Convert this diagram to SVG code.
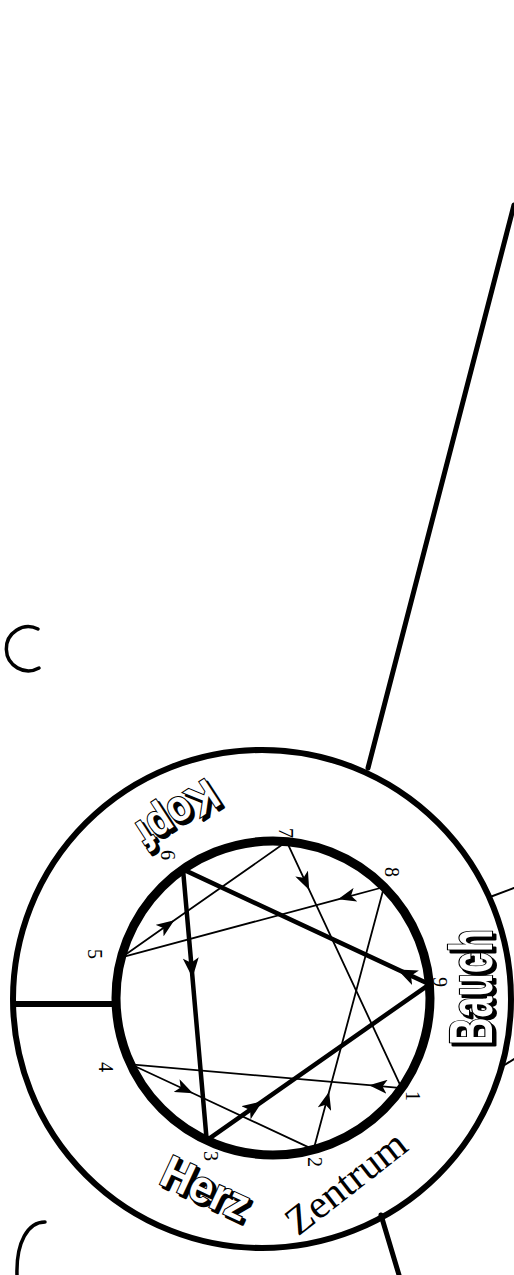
<svg xmlns="http://www.w3.org/2000/svg" width="514" height="1275" viewBox="0 0 514 1275">
<style>
.bg{fill:#fff}
.ring{fill:none;stroke:#000;stroke-width:6}
.inner{fill:none;stroke:#000;stroke-width:9}
.thick{fill:none;stroke:#000;stroke-width:5;stroke-linecap:round}
.thin{fill:none;stroke:#000;stroke-width:2;stroke-linecap:round}
.tri{fill:none;stroke:#000;stroke-width:4.5;stroke-linecap:round;marker-mid:url(#ah-thick)}
.hex{fill:none;stroke:#000;stroke-width:1.8;stroke-linecap:round;marker-mid:url(#ah-thin)}
.arc{fill:none;stroke:#000;stroke-width:3.5;stroke-linecap:round}
.num{font-family:"Liberation Serif",serif;font-size:20px;text-anchor:middle;fill:#000}
.serif{font-family:"Liberation Serif",serif;font-size:40px;text-anchor:middle;fill:#000}
.big{font-family:"Liberation Sans",Arial,sans-serif;font-weight:bold;text-anchor:middle}
.shadow{fill:#000;stroke:#000;stroke-width:3;stroke-linejoin:round}
.front{fill:#fff;stroke:#000;stroke-width:2.2;paint-order:stroke}
</style>
<defs>
<marker id="ah-thick" markerUnits="userSpaceOnUse" markerWidth="21" markerHeight="16" refX="20" refY="8" orient="auto">
<path d="M0,0 L20,8 L0,16 L5,8 z" fill="#000"/>
</marker>
<marker id="ah-thin" markerUnits="userSpaceOnUse" markerWidth="19" markerHeight="14" refX="18" refY="7" orient="auto">
<path d="M0,0 L18,7 L0,14 L4.5,7 z" fill="#000"/>
</marker>
</defs>
<rect class="bg" x="0" y="0" width="514" height="1275"/>

<g id="connectors">
<line class="thick" x1="514" y1="205" x2="368" y2="768"/>
<line class="thick" x1="381" y1="1215" x2="399" y2="1275"/>
<line class="thin" x1="490" y1="897" x2="514" y2="888"/>
<line class="thin" x1="503" y1="1066" x2="514" y2="1059"/>
<line class="thick" x1="13" y1="1004" x2="117" y2="1004" style="stroke-width:6;stroke-linecap:butt"/>
</g>

<g id="outer-ring">
<circle class="ring" cx="262" cy="999" r="249"/>
</g>

<g id="bracket-arcs">
<path class="arc" d="M38,629 A22,22 0 1,0 39,668"/>
<path class="arc" d="M45,1222 C28,1222 16,1242 17,1275"/>
</g>

<g id="inner-circle">
<circle class="inner" cx="273" cy="998" r="157"/>
</g>

<g id="enneagram-lines">
<path class="tri" d="M429.4,984.3 L397.4,969.4 L183,869.4"/>
<path class="tri" d="M183,869.4 L192.5,977.8 L206.7,1140.3"/>
<path class="tri" d="M206.7,1140.3 L262.4,1101.3 L429.4,984.3"/>
<path class="hex" d="M401.6,1088.1 L369.1,1085.2 L130.7,1064.3"/>
<path class="hex" d="M130.7,1064.3 L192.9,1093.3 L313.6,1149.6"/>
<path class="hex" d="M313.6,1149.6 L329.1,1091.8 L384,887"/>
<path class="hex" d="M384,887 L338,899.3 L121.4,957.4"/>
<path class="hex" d="M121.4,957.4 L174.3,920.3 L286.7,841.6"/>
<path class="hex" d="M286.7,841.6 L309.2,889.9 L401.6,1088.1"/>
</g>

<g id="numbers">
<text class="num" transform="translate(440,982) rotate(90)" dy="0.35em">9</text>
<text class="num" transform="translate(413,1096) rotate(90)" dy="0.35em">1</text>
<text class="num" transform="translate(315,1162) rotate(90)" dy="0.35em">2</text>
<text class="num" transform="translate(211,1156) rotate(90)" dy="0.35em">3</text>
<text class="num" transform="translate(106,1067) rotate(90)" dy="0.35em">4</text>
<text class="num" transform="translate(95,954) rotate(90)" dy="0.35em">5</text>
<text class="num" transform="translate(168,855) rotate(90)" dy="0.35em">6</text>
<text class="num" transform="translate(286,833) rotate(90)" dy="0.35em">7</text>
<text class="num" transform="translate(392,872) rotate(90)" dy="0.35em">8</text>
</g>

<g id="label-kopf">
<text class="big shadow" transform="translate(181,818) rotate(147)" y="16" font-size="44" textLength="88" lengthAdjust="spacingAndGlyphs">Kopf</text>
<text class="big front" transform="translate(178,815) rotate(147)" y="16" font-size="44" textLength="88" lengthAdjust="spacingAndGlyphs">Kopf</text>
</g>

<g id="label-bauch">
<text class="big shadow" transform="translate(473,990) rotate(-90)" y="22" font-size="62" textLength="116" lengthAdjust="spacingAndGlyphs">Bauch</text>
<text class="big front" transform="translate(470,987) rotate(-90)" y="22" font-size="62" textLength="116" lengthAdjust="spacingAndGlyphs">Bauch</text>
</g>

<g id="label-herz">
<text class="big shadow" transform="translate(209,1191) rotate(25)" y="16" font-size="46" textLength="92" lengthAdjust="spacingAndGlyphs">Herz</text>
<text class="big front" transform="translate(206,1188) rotate(25)" y="16" font-size="46" textLength="92" lengthAdjust="spacingAndGlyphs">Herz</text>
</g>

<g id="label-zentrum">
<text class="serif" transform="translate(354,1193) rotate(-38)" textLength="142" lengthAdjust="spacingAndGlyphs">Zentrum</text>
</g>
</svg>
